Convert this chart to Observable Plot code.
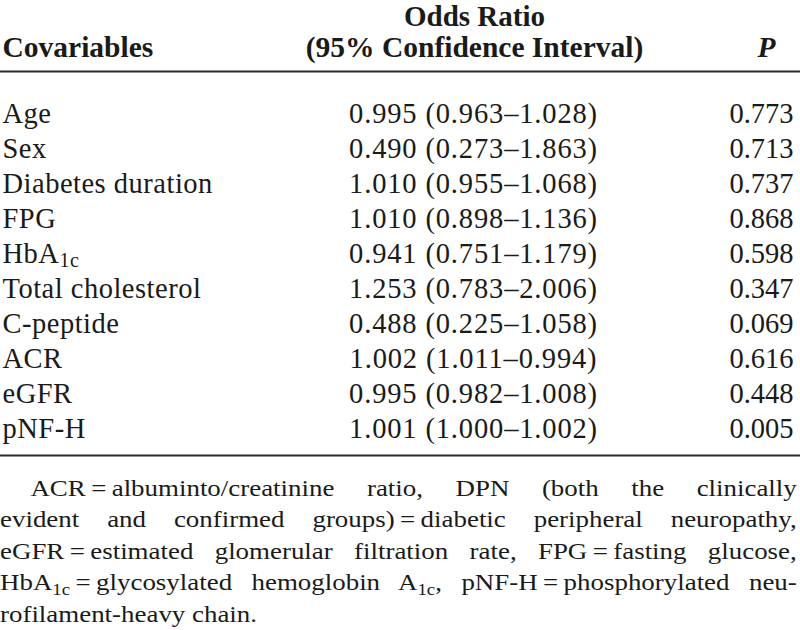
<!DOCTYPE html>
<html>
<head>
<meta charset="utf-8">
<script src="https://cdn.jsdelivr.net/npm/d3@7"></script>
<script src="https://cdn.jsdelivr.net/npm/@observablehq/plot@0.6"></script>
<style>
  html, body { margin: 0; padding: 0; background: #fff; }
  #chart svg { display: block; }
  .lbl-col text { letter-spacing: 0.5px; }
  .or-col text { letter-spacing: 0.85px; }
  .note {
    font-family: "Liberation Serif", "Times New Roman", serif;
    font-size: 23px; line-height: 31.4px; color: #1a1a1a;
    width: 681px; transform: scaleX(1.17); transform-origin: 0 0;
    padding-top: 3px;
  }
  .note div { text-align: justify; text-align-last: justify; }
  .note div.last { text-align-last: left; }
  .note div.first { padding-left: 26px; }
  .note sub { font-size: 70%; line-height: 0; vertical-align: -0.28em; }
</style>
</head>
<body>
<div id="chart"></div>
<div class="note" id="note"></div>
<script>
// ---- data ----
const covariables = ["Age", "Sex", "Diabetes duration", "FPG", "HbA1c", "Total cholesterol", "C-peptide", "ACR", "eGFR", "pNF-H"];
const oddsRatios  = ["0.995", "0.490", "1.010", "1.010", "0.941", "1.253", "0.488", "1.002", "0.995", "1.001"];
const ciLower     = ["0.963", "0.273", "0.955", "0.898", "0.751", "0.783", "0.225", "1.011", "0.982", "1.000"];
const ciUpper     = ["1.028", "1.863", "1.068", "1.136", "1.179", "2.006", "1.058", "0.994", "1.008", "1.002"];
const pValues     = ["0.773", "0.713", "0.737", "0.868", "0.598", "0.347", "0.069", "0.616", "0.448", "0.005"];
const headerCovariable = "Covariables";
const headerOR1 = "Odds Ratio";
const headerOR2 = "(95% Confidence Interval)";
const headerP = "P";
const eq = "\u2009=\u2009";
const footnoteLines = [
  `ACR${eq}albuminto/creatinine ratio, DPN (both the clinically`,
  `evident and confirmed groups)${eq}diabetic peripheral neuropathy,`,
  `eGFR${eq}estimated glomerular filtration rate, FPG${eq}fasting glucose,`,
  `HbA<sub>1c</sub>${eq}glycosylated hemoglobin A<sub>1c</sub>, pNF-H${eq}phosphorylated neu-`,
  `rofilament-heavy chain.`
];

const rows = covariables.map((c, i) => ({
  covariable: c,
  or: `${oddsRatios[i]} (${ciLower[i]}\u2013${ciUpper[i]})`,
  p: pValues[i]
}));

const ink = "#1a1a1a";
const bodySize = 28.5;
const headSize = 29.5;

const chart = Plot.plot({
  width: 800,
  height: 470,
  marginTop: 71,
  marginBottom: 15,
  marginLeft: 0,
  marginRight: 0,
  x: { type: "linear", domain: [0, 800], axis: null },
  y: { type: "point", domain: covariables, padding: 0, insetTop: 50, insetBottom: 18, axis: null },
  style: { fontFamily: "'Liberation Serif', 'Times New Roman', serif", color: ink, background: "#fff" },
  marks: [
    Plot.frame({ anchor: "top", stroke: "#2a2a2a", strokeWidth: 2.2 }),
    Plot.frame({ anchor: "bottom", stroke: "#2a2a2a", strokeWidth: 2.2 }),
    // headers
    Plot.text([headerCovariable], { x: 2, frameAnchor: "top", dy: -15, lineAnchor: "bottom", textAnchor: "start", fontWeight: "bold", fontSize: headSize, fill: ink }),
    Plot.text([headerOR1], { x: 474, frameAnchor: "top", dy: -46, lineAnchor: "bottom", textAnchor: "middle", fontWeight: "bold", fontSize: 29, fill: ink }),
    Plot.text([headerOR2], { x: 474, frameAnchor: "top", dy: -15, lineAnchor: "bottom", textAnchor: "middle", fontWeight: "bold", fontSize: headSize, fill: ink }),
    Plot.text([headerP], { x: 766, frameAnchor: "top", dy: -15, lineAnchor: "bottom", textAnchor: "middle", fontWeight: "bold", fontStyle: "italic", fontSize: headSize, fill: ink }),
    // body
    Plot.text(rows, { x: 2, y: "covariable", text: "covariable", textAnchor: "start", lineAnchor: "bottom", fontSize: bodySize, fill: ink, className: "lbl-col" }),
    Plot.text(rows, { x: 473, y: "covariable", text: "or", textAnchor: "middle", lineAnchor: "bottom", fontSize: bodySize, fill: ink, className: "or-col" }),
    Plot.text(rows, { x: 793, y: "covariable", text: "p", textAnchor: "end", lineAnchor: "bottom", fontSize: bodySize, fill: ink })
  ]
});

// subscript for HbA1c
d3.select(chart).selectAll("text").each(function () {
  if (this.textContent === "HbA1c") {
    this.textContent = "HbA";
    const t = document.createElementNS("http://www.w3.org/2000/svg", "tspan");
    t.setAttribute("font-size", "70%");
    t.setAttribute("dy", "0.22em");
    t.textContent = "1c";
    this.appendChild(t);
  }
});

document.getElementById("chart").appendChild(chart);

const note = document.getElementById("note");
footnoteLines.forEach((line, i) => {
  const div = document.createElement("div");
  if (i === 0) div.className = "first";
  if (i === footnoteLines.length - 1) div.className = "last";
  div.innerHTML = line;
  note.appendChild(div);
});
</script>
</body>
</html>
